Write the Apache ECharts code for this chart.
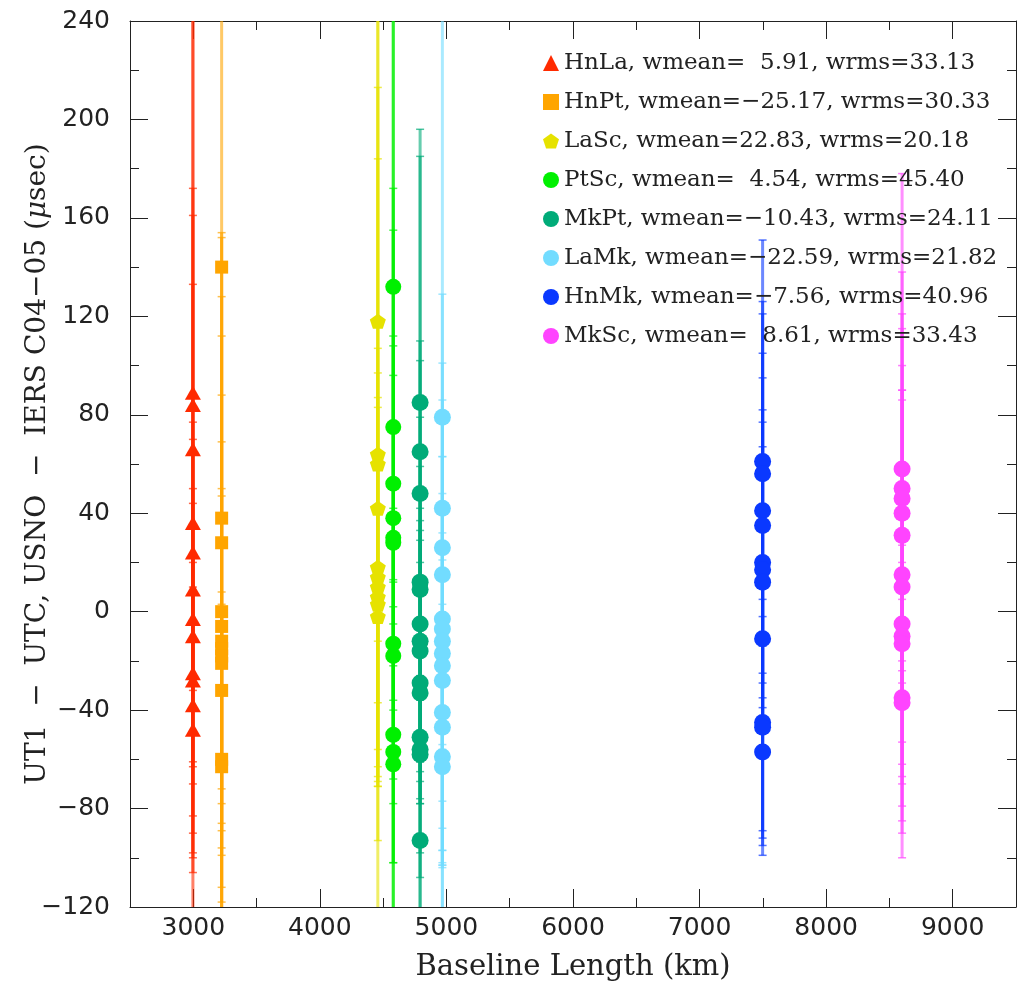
<!DOCTYPE html>
<html>
<head>
<meta charset="utf-8">
<script src="https://cdn.jsdelivr.net/npm/echarts@6/dist/echarts.min.js"></script>
<style>
html,body{margin:0;padding:0;background:#fff;}
#chart{width:1018px;height:989px;}
</style>
</head>
<body>
<div id="chart"></div>
<script>
// ---- data ----
const names = ['HnLa','HnPt','LaSc','PtSc','MkPt','LaMk','HnMk','MkSc'];
const baselines = [2997, 3224, 4458, 4580, 4792, 4968, 7498, 8600];
const wmeans = ['  5.91','\u221225.17','22.83','  4.54','\u221210.43','\u221222.59','\u22127.56','  8.61'];
const wrmss = ['33.13','30.33','20.18','45.40','24.11','21.82','40.96','33.43'];
const colors = ['#ff2a00','#ffa500','#e6e200','#00f000','#00ab78','#72dcff','#0a38ff','#ff44ff'];

const valHnLa = [89, 84, 66, 36, 24, 9, -3, -10, -25, -28, -38, -48];
const errHnLa = [152, 77, 106, 97, 226, 41, 80, 80, 45, 72, 60, 58];
const valHnPt = [140, 38, 28, 0, -6, -12, -15, -18, -21, -32, -60, -63];
const errHnPt = [110, 116, 124, 128, 118, 100, 84, 68, 68, 40, 63, 55];
const valLaSc = [118, 64, 60, 42, 18, 14, 10, 6, 3, -2];
const errLaSc = [130, 120, 153, 260, 89, 83, 77, 77, 40, 61];
const valPtSc = [132, 75, 52, 38, 30, 28, -13, -18, -50, -57, -62];
const errPtSc = [120, 80, 120, 74, 78, 68, 260, 60, 52, 70, 40];
const valMkPt = [85, 65, 48, 12, 9, -5, -12, -16, -29, -33, -51, -56, -58, -93];
const errMkPt = [111, 120, 62, 90, 70, 64, 49, 49, 49, 75, 80, 20, 40, 60];
const valLaMk = [79, 42, 26, 15, -3, -7, -12, -17, -22, -28, -41, -47, -59, -63];
const errLaMk = [260, 87, 75, 71, 51, 70, 90, 80, 100, 60, 62, 50, 45, 40];
const valHnMk = [61, 56, 41, 35, 20, 17, 12, -11, -45, -47, -57];
const errHnMk = [90, 70, 80, 70, 75, 65, 55, 88, 50, 45, 32];
const valMkSc = [58, 50, 46, 40, 31, 15, 10, -5, -10, -13, -35, -37];
const errMkSc = [120, 88, 75, 60, 55, 100, 80, 95, 57, 40, 55, 42];

const xTicks = [3000, 4000, 5000, 6000, 7000, 8000, 9000];

const values = [valHnLa, valHnPt, valLaSc, valPtSc, valMkPt, valLaMk, valHnMk, valMkSc];
const errors = [errHnLa, errHnPt, errLaSc, errPtSc, errMkPt, errLaMk, errHnMk, errMkSc];

// ---- styling ----
const pentagon = 'path://M0,-10 L9.51,-3.09 L5.88,8.09 L-5.88,8.09 L-9.51,-3.09 Z';
const symbols = ['triangle','rect',pentagon,'circle','circle','circle','circle','circle'];
const symSizes = [[16,14],[13,13],[16,15],16,17,17,17,17];
const tickFont = 'DejaVu Sans';
const serifFont = 'DejaVu Serif';
const axisColor = '#222';

const series = [];
names.forEach((nm, i) => {
  const col = colors[i];
  series.push({
    type: 'custom',
    name: nm,
    xAxisIndex: 0, yAxisIndex: 0,
    clip: true,
    z: 2,
    data: values[i].map((v, k) => [baselines[i], v, errors[i][k]]),
    renderItem: function (params, api) {
      const x = api.value(0), y = api.value(1), s = api.value(2);
      const t = api.coord([x, y + s]);
      const b = api.coord([x, y - s]);
      const cw = 4;
      const st = {stroke: col, lineWidth: 3, opacity: 0.6};
      const sc = {stroke: col, lineWidth: 1.5, opacity: 0.7};
      return {
        type: 'group',
        children: [
          {type: 'line', shape: {x1: t[0], y1: t[1], x2: b[0], y2: b[1]}, style: st},
          {type: 'line', shape: {x1: t[0] - cw, y1: t[1], x2: t[0] + cw, y2: t[1]}, style: sc},
          {type: 'line', shape: {x1: b[0] - cw, y1: b[1], x2: b[0] + cw, y2: b[1]}, style: sc}
        ]
      };
    }
  });
  series.push({
    type: 'scatter',
    name: nm,
    xAxisIndex: 0, yAxisIndex: 0,
    z: 3,
    symbol: symbols[i],
    symbolSize: symSizes[i],
    itemStyle: {color: col, opacity: 1},
    data: values[i].map(v => [baselines[i], v])
  });
});

const labelMap = {};
names.forEach((nm, i) => {
  labelMap[nm] = nm + ', wmean=' + wmeans[i] + ', wrms=' + wrmss[i];
});

const majorX = {
  type: 'value', min: 2500, max: 9500, gridIndex: 0,
  axisLine: {show: true, onZero: false, lineStyle: {color: axisColor, width: 1}},
  axisTick: {show: true, inside: true, length: 18, customValues: xTicks, lineStyle: {color: axisColor}},
  splitLine: {show: false}
};
const minorX = {
  type: 'value', min: 2500, max: 9500, interval: 500, gridIndex: 0,
  axisLine: {show: false, onZero: false},
  axisTick: {show: true, inside: true, length: 9, lineStyle: {color: axisColor}},
  axisLabel: {show: false},
  splitLine: {show: false}
};

const option = {
  backgroundColor: '#fff',
  animation: false,
  grid: {left: 130, right: 2, top: 21, bottom: 82, containLabel: false, outerBoundsMode: 'none'},
  legend: {
    orient: 'vertical',
    left: 538, top: 46,
    itemWidth: 16, itemHeight: 16,
    itemGap: 15,
    selectedMode: false,
    data: names.map((nm, i) => ({name: nm, icon: symbols[i], itemStyle: {color: colors[i]}})),
    formatter: nm => labelMap[nm],
    textStyle: {fontFamily: serifFont, fontSize: 23, color: '#222', lineHeight: 24}
  },
  xAxis: [
    Object.assign({}, majorX, {
      position: 'bottom',
      name: 'Baseline Length (km)',
      nameLocation: 'middle',
      nameGap: 46,
      nameMoveOverlap: false,
      nameTextStyle: {fontFamily: serifFont, fontSize: 29, color: '#222'},
      axisLabel: {show: true, customValues: xTicks, margin: 9, fontFamily: tickFont, fontSize: 25, color: '#222',
        formatter: v => String(v)}
    }),
    Object.assign({}, minorX, {position: 'bottom'}),
    Object.assign({}, majorX, {position: 'top', axisLabel: {show: false}}),
    Object.assign({}, minorX, {position: 'top'})
  ],
  yAxis: [
    {
      type: 'value', min: -120, max: 240, interval: 40, position: 'left',
      name: 'UT1  \u2212  UTC, USNO  \u2212  IERS C04\u221205 ({i|\u03bc}sec)',
      nameLocation: 'middle',
      nameGap: 78,
      nameMoveOverlap: false,
      nameTextStyle: {fontFamily: serifFont, fontSize: 28, color: '#222', rich: {i: {fontFamily: serifFont, fontSize: 28, fontStyle: 'italic', color: '#222'}}},
      axisLine: {show: true, onZero: false, lineStyle: {color: axisColor}},
      axisTick: {show: true, inside: true, length: 18, lineStyle: {color: axisColor}},
      minorTick: {show: true, splitNumber: 2, length: 9, lineStyle: {color: axisColor}},
      axisLabel: {margin: 20, fontFamily: tickFont, fontSize: 25, color: '#222',
        formatter: v => (v < 0 ? '\u2212' + Math.abs(v) : String(v))},
      splitLine: {show: false}
    },
    {
      type: 'value', min: -120, max: 240, interval: 40, position: 'right',
      axisLine: {show: true, onZero: false, lineStyle: {color: axisColor}},
      axisTick: {show: true, inside: true, length: 18, lineStyle: {color: axisColor}},
      minorTick: {show: true, splitNumber: 2, length: 9, lineStyle: {color: axisColor}},
      axisLabel: {show: false},
      splitLine: {show: false}
    }
  ],
  series: series
};

const chart = echarts.init(document.getElementById('chart'), null, {renderer: 'canvas'});
chart.setOption(option);
</script>
</body>
</html>
